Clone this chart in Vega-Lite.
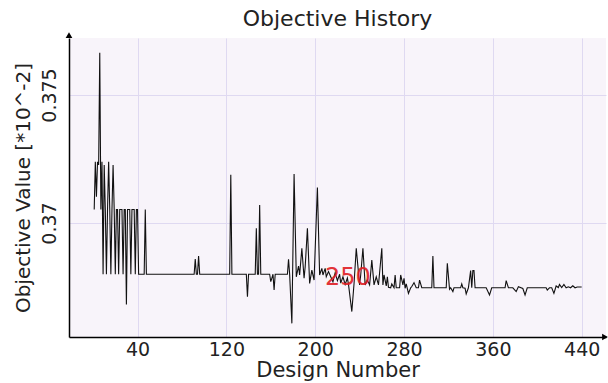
{
  "$schema": "https://vega.github.io/schema/vega-lite/v6.json",
  "width": 537,
  "height": 299,
  "autosize": {"type": "none"},
  "padding": {"left": 69, "top": 38, "right": 2, "bottom": 46},
  "background": "#ffffff",
  "title": {
    "text": "Objective History",
    "fontSize": 22,
    "font": "DejaVu Sans",
    "fontWeight": "normal",
    "color": "#222222",
    "anchor": "middle",
    "offset": 1
  },
  "datasets": {
    "history": [
      {"design": 1, "objective": 0.37053},
      {"design": 2, "objective": 0.37239},
      {"design": 3, "objective": 0.37103},
      {"design": 4, "objective": 0.37239},
      {"design": 5, "objective": 0.37227},
      {"design": 6, "objective": 0.37665},
      {"design": 7, "objective": 0.37053},
      {"design": 8, "objective": 0.37239},
      {"design": 9, "objective": 0.3680},
      {"design": 10, "objective": 0.37227},
      {"design": 11, "objective": 0.37053},
      {"design": 12, "objective": 0.3680},
      {"design": 13, "objective": 0.37053},
      {"design": 14, "objective": 0.37239},
      {"design": 15, "objective": 0.37053},
      {"design": 16, "objective": 0.3680},
      {"design": 17, "objective": 0.37053},
      {"design": 18, "objective": 0.37227},
      {"design": 19, "objective": 0.37053},
      {"design": 20, "objective": 0.3680},
      {"design": 21, "objective": 0.37053},
      {"design": 22, "objective": 0.37053},
      {"design": 23, "objective": 0.3680},
      {"design": 24, "objective": 0.37053},
      {"design": 25, "objective": 0.37053},
      {"design": 26, "objective": 0.37053},
      {"design": 27, "objective": 0.3680},
      {"design": 28, "objective": 0.37053},
      {"design": 29, "objective": 0.37053},
      {"design": 30, "objective": 0.36682},
      {"design": 31, "objective": 0.37053},
      {"design": 32, "objective": 0.37053},
      {"design": 33, "objective": 0.37053},
      {"design": 34, "objective": 0.3680},
      {"design": 35, "objective": 0.37053},
      {"design": 36, "objective": 0.37053},
      {"design": 37, "objective": 0.37053},
      {"design": 38, "objective": 0.3680},
      {"design": 39, "objective": 0.37053},
      {"design": 40, "objective": 0.37053},
      {"design": 41, "objective": 0.3680},
      {"design": 46, "objective": 0.3680},
      {"design": 47, "objective": 0.37053},
      {"design": 48, "objective": 0.3680},
      {"design": 91, "objective": 0.3680},
      {"design": 92, "objective": 0.36859},
      {"design": 93, "objective": 0.3680},
      {"design": 94, "objective": 0.3680},
      {"design": 95, "objective": 0.36871},
      {"design": 96, "objective": 0.3680},
      {"design": 123, "objective": 0.3680},
      {"design": 124, "objective": 0.37188},
      {"design": 125, "objective": 0.3680},
      {"design": 138, "objective": 0.3680},
      {"design": 139, "objective": 0.36712},
      {"design": 140, "objective": 0.3680},
      {"design": 146, "objective": 0.3680},
      {"design": 147, "objective": 0.36979},
      {"design": 148, "objective": 0.3680},
      {"design": 149, "objective": 0.3680},
      {"design": 150, "objective": 0.3707},
      {"design": 151, "objective": 0.3680},
      {"design": 159, "objective": 0.3680},
      {"design": 160, "objective": 0.36771},
      {"design": 161, "objective": 0.36785},
      {"design": 162, "objective": 0.3680},
      {"design": 163, "objective": 0.36738},
      {"design": 164, "objective": 0.3680},
      {"design": 175, "objective": 0.3680},
      {"design": 176, "objective": 0.36858},
      {"design": 177, "objective": 0.3680},
      {"design": 179, "objective": 0.36608},
      {"design": 181, "objective": 0.37191},
      {"design": 183, "objective": 0.3679},
      {"design": 185, "objective": 0.36832},
      {"design": 186, "objective": 0.36797},
      {"design": 188, "objective": 0.36901},
      {"design": 190, "objective": 0.36784},
      {"design": 191, "objective": 0.36829},
      {"design": 193, "objective": 0.36979},
      {"design": 195, "objective": 0.36764},
      {"design": 197, "objective": 0.36816},
      {"design": 199, "objective": 0.36777},
      {"design": 202, "objective": 0.37139},
      {"design": 204, "objective": 0.36797},
      {"design": 206, "objective": 0.36823},
      {"design": 207, "objective": 0.36797},
      {"design": 209, "objective": 0.36823},
      {"design": 210, "objective": 0.3679},
      {"design": 212, "objective": 0.3681},
      {"design": 214, "objective": 0.3679},
      {"design": 216, "objective": 0.3677},
      {"design": 218, "objective": 0.36805},
      {"design": 220, "objective": 0.36775},
      {"design": 222, "objective": 0.368},
      {"design": 223, "objective": 0.36765},
      {"design": 225, "objective": 0.3679},
      {"design": 227, "objective": 0.3676},
      {"design": 229, "objective": 0.36785},
      {"design": 230, "objective": 0.3676},
      {"design": 233, "objective": 0.36654},
      {"design": 235, "objective": 0.36764},
      {"design": 237, "objective": 0.36901},
      {"design": 240, "objective": 0.36758},
      {"design": 241, "objective": 0.36797},
      {"design": 243, "objective": 0.36901},
      {"design": 245, "objective": 0.36758},
      {"design": 247, "objective": 0.36777},
      {"design": 249, "objective": 0.36758},
      {"design": 251, "objective": 0.36855},
      {"design": 253, "objective": 0.36758},
      {"design": 255, "objective": 0.3679},
      {"design": 257, "objective": 0.36758},
      {"design": 260, "objective": 0.36901},
      {"design": 261, "objective": 0.36758},
      {"design": 262, "objective": 0.36797},
      {"design": 264, "objective": 0.36754},
      {"design": 265, "objective": 0.3679},
      {"design": 266, "objective": 0.36749},
      {"design": 268, "objective": 0.36747},
      {"design": 269, "objective": 0.36762},
      {"design": 271, "objective": 0.36747},
      {"design": 272, "objective": 0.36797},
      {"design": 273, "objective": 0.36747},
      {"design": 276, "objective": 0.36747},
      {"design": 277, "objective": 0.36797},
      {"design": 279, "objective": 0.36758},
      {"design": 280, "objective": 0.36784},
      {"design": 281, "objective": 0.36745},
      {"design": 282, "objective": 0.36762},
      {"design": 284, "objective": 0.36725},
      {"design": 286, "objective": 0.36747},
      {"design": 287, "objective": 0.36752},
      {"design": 289, "objective": 0.36767},
      {"design": 291, "objective": 0.36747},
      {"design": 293, "objective": 0.36747},
      {"design": 294, "objective": 0.36777},
      {"design": 296, "objective": 0.36747},
      {"design": 305, "objective": 0.36747},
      {"design": 306, "objective": 0.36871},
      {"design": 307, "objective": 0.36747},
      {"design": 318, "objective": 0.36747},
      {"design": 319, "objective": 0.36843},
      {"design": 321, "objective": 0.36741},
      {"design": 322, "objective": 0.36747},
      {"design": 324, "objective": 0.36732},
      {"design": 325, "objective": 0.36747},
      {"design": 331, "objective": 0.36747},
      {"design": 332, "objective": 0.36762},
      {"design": 333, "objective": 0.36747},
      {"design": 335, "objective": 0.36745},
      {"design": 336, "objective": 0.36723},
      {"design": 338, "objective": 0.36747},
      {"design": 340, "objective": 0.36814},
      {"design": 341, "objective": 0.36747},
      {"design": 342, "objective": 0.36814},
      {"design": 343, "objective": 0.36814},
      {"design": 344, "objective": 0.36747},
      {"design": 354, "objective": 0.36747},
      {"design": 357, "objective": 0.36719},
      {"design": 359, "objective": 0.36747},
      {"design": 371, "objective": 0.36747},
      {"design": 372, "objective": 0.36775},
      {"design": 374, "objective": 0.36747},
      {"design": 378, "objective": 0.36747},
      {"design": 381, "objective": 0.36732},
      {"design": 383, "objective": 0.36751},
      {"design": 387, "objective": 0.36744},
      {"design": 389, "objective": 0.36719},
      {"design": 391, "objective": 0.36747},
      {"design": 408, "objective": 0.36747},
      {"design": 409, "objective": 0.36738},
      {"design": 411, "objective": 0.36747},
      {"design": 413, "objective": 0.36747},
      {"design": 415, "objective": 0.36725},
      {"design": 417, "objective": 0.36754},
      {"design": 419, "objective": 0.36748},
      {"design": 420, "objective": 0.3676},
      {"design": 422, "objective": 0.36748},
      {"design": 424, "objective": 0.3676},
      {"design": 426, "objective": 0.36747},
      {"design": 428, "objective": 0.36751},
      {"design": 430, "objective": 0.36747},
      {"design": 432, "objective": 0.36755},
      {"design": 434, "objective": 0.36747},
      {"design": 436, "objective": 0.3675},
      {"design": 440, "objective": 0.3675}
    ],
    "annotation": [
      {"design": 250, "objective": 0.36787, "label": "250"}
    ],
    "arrows": [
      {"design": -21.7, "objective": 0.37734, "shape": "triangle-up"},
      {"design": 461.0, "objective": 0.365547, "shape": "triangle-right"}
    ]
  },
  "encoding": {
    "x": {
      "field": "design",
      "type": "quantitative",
      "scale": {"domain": [-21.7, 461.9], "nice": false, "zero": false},
      "axis": {
        "values": [40, 120, 200, 280, 360, 440],
        "format": "d",
        "title": "Design Number",
        "labelFontSize": 19,
        "labelPadding": 3,
        "titleFontSize": 21,
        "titlePadding": 0
      }
    },
    "y": {
      "field": "objective",
      "type": "quantitative",
      "scale": {"domain": [0.365547, 0.377227], "nice": false, "zero": false},
      "axis": {
        "values": [0.37, 0.375],
        "format": ".3~f",
        "title": "Objective Value [*10^-2]",
        "labelAngle": -90,
        "labelAlign": "center",
        "labelBaseline": "bottom",
        "labelPadding": 10,
        "labelFontSize": 19,
        "titleFontSize": 20,
        "titlePadding": 7
      }
    }
  },
  "layer": [
    {
      "data": {"name": "history"},
      "mark": {"type": "line", "color": "#111111", "strokeWidth": 1.1, "interpolate": "linear"}
    },
    {
      "data": {"name": "annotation"},
      "mark": {
        "type": "text",
        "color": "#e01f25",
        "fontSize": 24,
        "font": "DejaVu Sans",
        "align": "right",
        "baseline": "middle",
        "opacity": 0.9
      },
      "encoding": {"text": {"field": "label"}}
    },
    {
      "data": {"name": "arrows"},
      "mark": {"type": "point", "filled": true, "color": "#000000", "size": 45, "opacity": 1},
      "encoding": {"shape": {"field": "shape", "type": "nominal", "scale": null, "legend": null}}
    }
  ],
  "config": {
    "font": "DejaVu Sans",
    "view": {"fill": "#f8f4fa", "stroke": null},
    "axis": {
      "grid": true,
      "gridColor": "#dfd9f1",
      "gridWidth": 1,
      "ticks": false,
      "domainColor": "#000000",
      "domainWidth": 1.5,
      "labelColor": "#222222",
      "titleColor": "#222222",
      "titleFontWeight": "normal",
      "labelFont": "DejaVu Sans",
      "titleFont": "DejaVu Sans"
    }
  }
}
